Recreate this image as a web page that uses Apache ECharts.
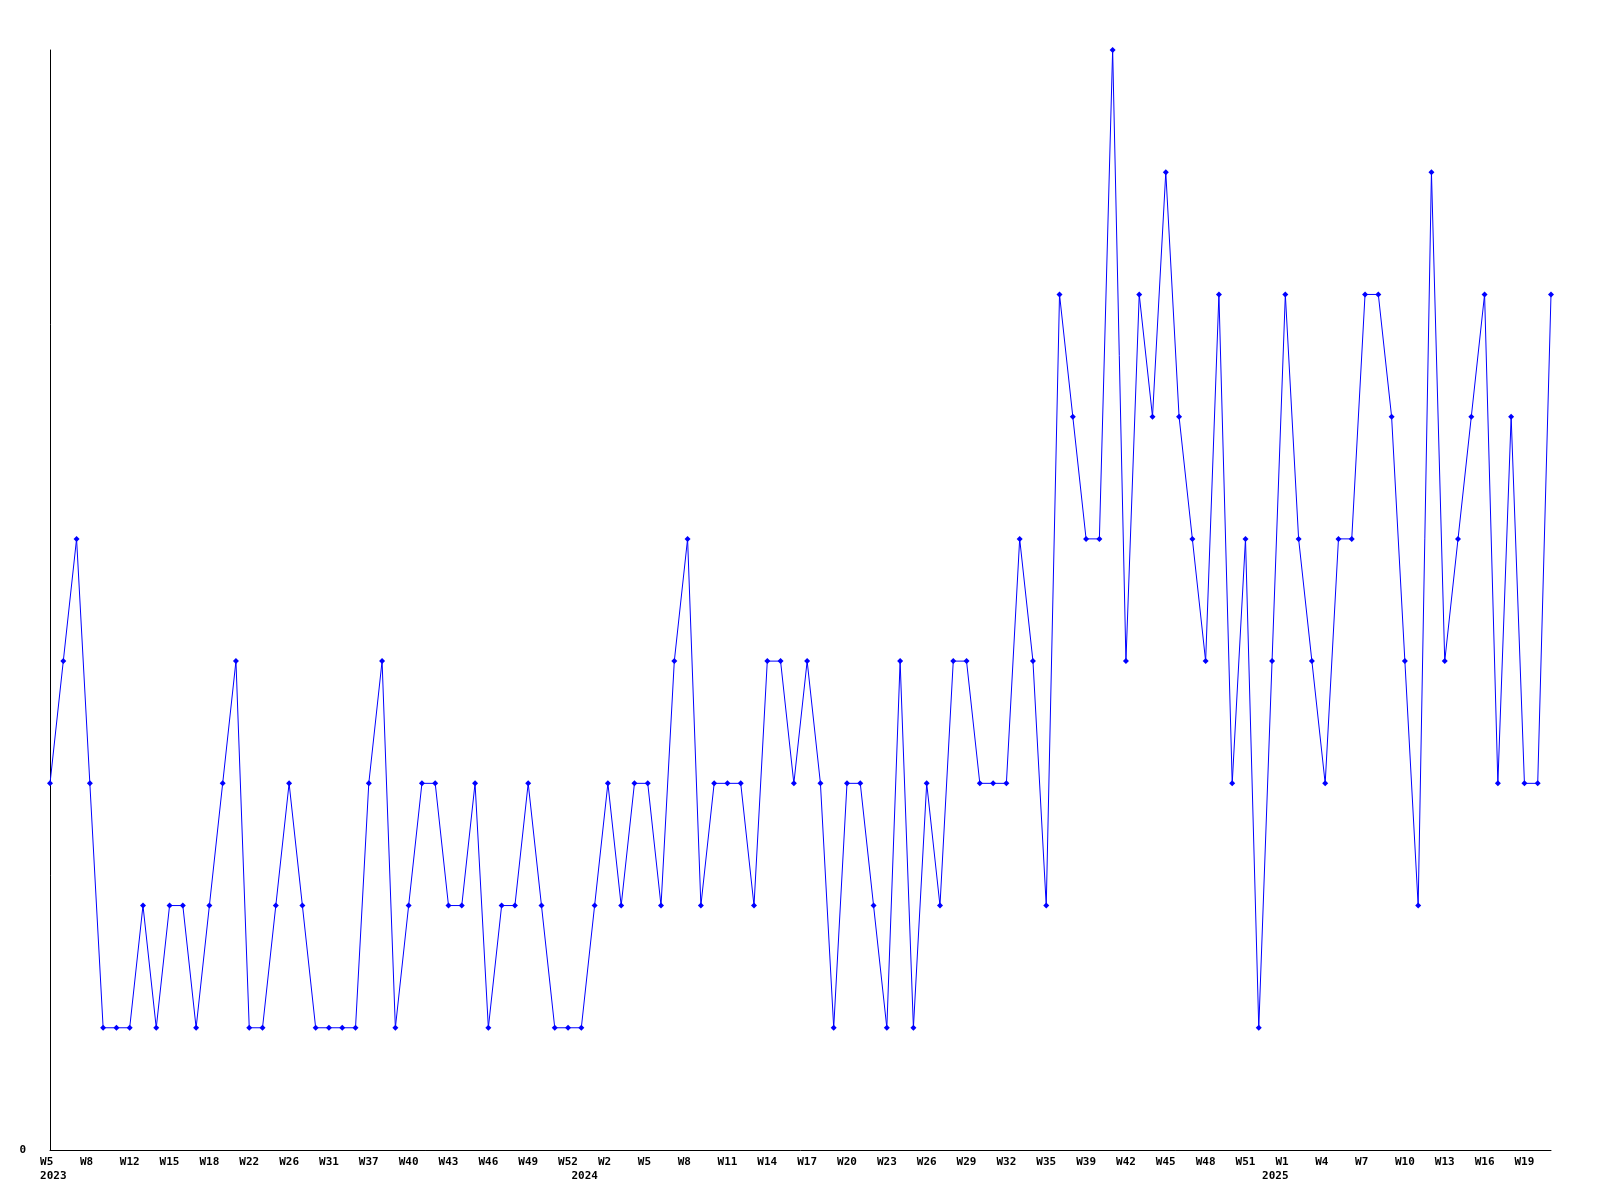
<!DOCTYPE html>
<html>
<head>
<meta charset="utf-8">
<script src="https://cdn.jsdelivr.net/npm/echarts@6/dist/echarts.min.js"></script>
<style>
html,body{margin:0;padding:0;background:#fff;}
#chart{width:1600px;height:1200px;}
</style>
</head>
<body>
<div id="chart"></div>
<script>
// Week labels (one per data point)
const weeks = [
  'W5','W6','W7','W8','W9','W10','W12','W13','W14','W15',
  'W16','W17','W18','W19','W20','W22','W23','W24','W26','W27',
  'W28','W31','W33','W35','W37','W38','W39','W40','W41','W42',
  'W43','W44','W45','W46','W47','W48','W49','W50','W51','W52',
  'W0','W1','W2','W3','W4','W5','W6','W7','W8','W9',
  'W10','W11','W12','W13','W14','W15','W16','W17','W18','W19',
  'W20','W21','W22','W23','W24','W25','W26','W27','W28','W29',
  'W30','W31','W32','W33','W34','W35','W36','W37','W39','W40',
  'W41','W42','W43','W44','W45','W46','W47','W48','W49','W50',
  'W51','W52','W0','W1','W2','W3','W4','W5','W6','W7',
  'W8','W9','W10','W11','W12','W13','W14','W15','W16','W17',
  'W18','W19','W20','W21'
];
// Year of each data point
const years2023 = Array(40).fill('2023');
const years2024 = Array(52).fill('2024');
const years2025 = Array(22).fill('2025');
const years = years2023.concat(years2024, years2025);

// Values
const values = [
  3,4,5,3,1,1,1,2,1,2,
  2,1,2,3,4,1,1,2,3,2,
  1,1,1,1,3,4,1,2,3,3,
  2,2,3,1,2,2,3,2,1,1,
  1,2,3,2,3,3,2,4,5,2,
  3,3,3,2,4,4,3,4,3,1,
  3,3,2,1,4,1,3,2,4,4,
  3,3,3,5,4,2,7,6,5,5,
  9,4,7,6,8,6,5,4,7,3,
  5,1,4,7,5,4,3,5,5,7,
  7,6,4,2,8,4,5,6,7,3,
  6,3,3,7
];

const yTicks = [0, 9];

const FONT = 'DejaVu Sans Mono';
const FS = 11;
const chart = echarts.init(document.getElementById('chart'), null, {renderer: 'canvas'});
chart.setOption({
  animation: false,
  backgroundColor: '#ffffff',
  grid: {left: 50, right: 49, top: 50, bottom: 50, containLabel: false, outerBoundsMode: 'none'},
  xAxis: [{
    type: 'category',
    data: weeks,
    boundaryGap: false,
    axisLine: {show: true, lineStyle: {color: '#000', width: 1}},
    axisTick: {show: false},
    splitLine: {show: false},
    axisLabel: {
      interval: 2,
      margin: 7,
      color: '#000',
      fontFamily: FONT,
      fontWeight: 'bold',
      fontSize: FS,
      align: 'center',
      formatter: function (v) { return v.length < 3 ? v + ' ' : v; }
    }
  }, {
    type: 'category',
    data: years,
    position: 'bottom',
    boundaryGap: false,
    axisLine: {show: false},
    axisTick: {show: false},
    splitLine: {show: false},
    axisLabel: {
      interval: function (idx) { return idx === 0 || years[idx] !== years[idx - 1]; },
      margin: 21,
      color: '#000',
      fontFamily: FONT,
      fontWeight: 'bold',
      fontSize: FS,
      align: 'center',
      formatter: function (v) { return ' ' + v; }
    }
  }],
  yAxis: {
    type: 'value',
    min: yTicks[0],
    max: yTicks[1],
    interval: 9,
    axisLine: {show: true, lineStyle: {color: '#000', width: 1}},
    axisTick: {show: false},
    splitLine: {show: false},
    axisLabel: {
      margin: 24,
      color: '#000',
      fontFamily: FONT,
      fontWeight: 'bold',
      fontSize: FS,
      verticalAlign: 'middle',
      formatter: function (v) { return v === 0 ? '0' : ''; }
    }
  },
  series: [{
    type: 'line',
    xAxisIndex: 0,
    data: values,
    symbol: 'diamond',
    symbolSize: 6,
    showAllSymbol: true,
    lineStyle: {color: '#0000ff', width: 1},
    itemStyle: {color: '#0000ff'},
    emphasis: {disabled: true}
  }]
});
</script>
</body>
</html>
